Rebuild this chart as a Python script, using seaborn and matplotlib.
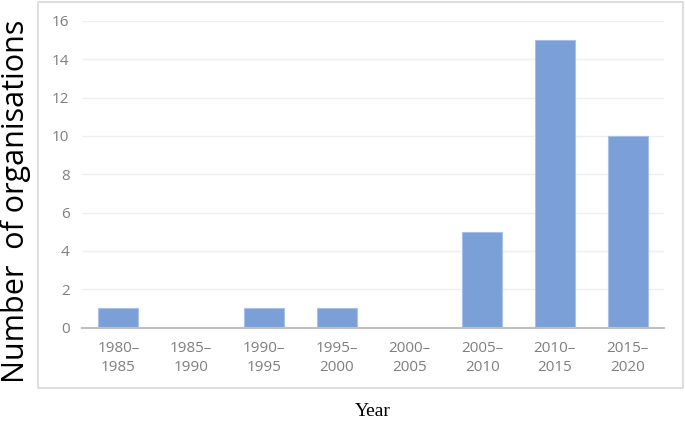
import matplotlib
matplotlib.use("Agg")
import matplotlib.pyplot as plt
import seaborn as sns
import pandas as pd
from matplotlib.patches import Rectangle

# Data
periods = ["1980–\n1985", "1985–\n1990", "1990–\n1995", "1995–\n2000",
           "2000–\n2005", "2005–\n2010", "2010–\n2015", "2015–\n2020"]
counts = [1, 0, 1, 1, 0, 5, 15, 10]

df = pd.DataFrame({"period": periods, "count": counts})

sns.set_style("white")
plt.rcParams['font.family'] = ['Open Sans', 'DejaVu Sans']

fig = plt.figure(figsize=(6.85, 4.21), dpi=100)
ax = fig.add_axes([82 / 685, 1 - 327.5 / 421, (664 - 82) / 685, (327.5 - 21) / 421])

sns.barplot(data=df, x="period", y="count", ax=ax, color="#7b9fd7",
            width=0.55, saturation=1, edgecolor="#a9c1e8", linewidth=0.8, zorder=3)

ax.set_xlim(-0.5, 7.5)
ax.set_ylim(0, 16)
ax.set_yticks(range(0, 17, 2))
ax.yaxis.grid(True, color="#efefef", linewidth=1, zorder=0)
for s in ["top", "right", "left"]:
    ax.spines[s].set_visible(False)
ax.spines["bottom"].set_color("#c0c0c0")
ax.spines["bottom"].set_linewidth(1.5)
ax.spines["bottom"].set_zorder(4)
ax.tick_params(axis="both", length=0, labelsize=11, labelcolor="#7f7f7f")
ax.tick_params(axis="y", pad=9)
ax.tick_params(axis="x", pad=10)
for lbl in ax.get_xticklabels():
    lbl.set_linespacing(1.35)
ax.set_xlabel("")
ax.set_ylabel("")

# outer chart frame
fig.patches.append(Rectangle((38 / 685, 1 - 388 / 421), (683 - 38) / 685, (388 - 2) / 421,
                             transform=fig.transFigure, fill=False,
                             edgecolor="#d9d9d9", linewidth=1.2))

fig.text(16 / 685, 1 - 201 / 421, "Number  of organisations", rotation=90,
         ha="center", va="center", fontsize=22, color="black")
fig.text(373 / 685, 1 - 412 / 421, "Year", ha="center", va="center",
         fontsize=14, family=["Liberation Serif", "DejaVu Serif"], color="black")

fig.savefig("out.png", dpi=100)
